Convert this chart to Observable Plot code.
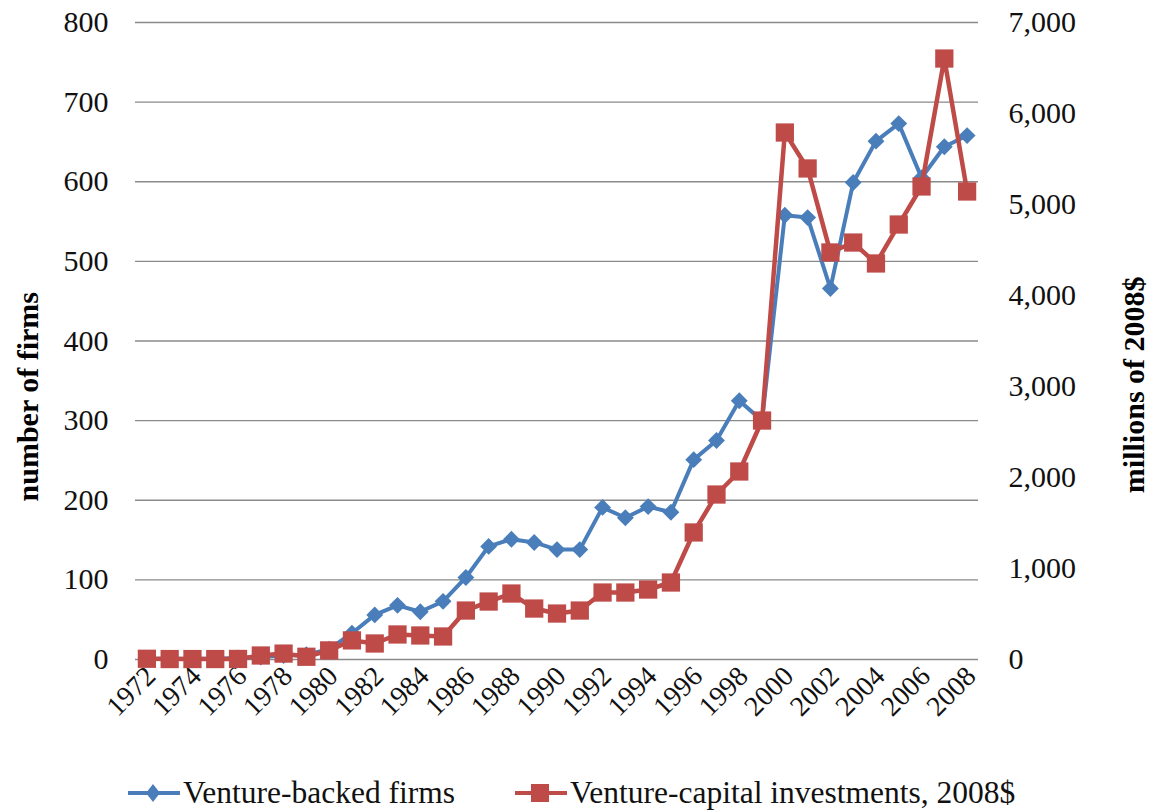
<!DOCTYPE html>
<html>
<head>
<meta charset="utf-8">
<script src="https://cdn.jsdelivr.net/npm/d3@7"></script>
<script src="https://cdn.jsdelivr.net/npm/@observablehq/plot@0.6"></script>
<style>
  html, body { margin: 0; padding: 0; background: #fff; }
  #wrap { position: relative; width: 1149px; height: 812px; font-family: "Liberation Serif", "Times New Roman", serif; }
  #legend { position: absolute; left: 0; top: 772px; width: 1149px; height: 42px; }
  .item { position: absolute; top: 0; height: 42px; display: flex; align-items: center; font-size: 31.5px; color: #111; }
  .item svg { margin-right: 3px; }
</style>
</head>
<body>
<div id="wrap">
  <div id="chart"></div>
  <div id="legend"></div>
</div>
<script>
// ---- data ----
const years = [1972,1973,1974,1975,1976,1977,1978,1979,1980,1981,1982,1983,1984,1985,1986,1987,1988,1989,1990,
               1991,1992,1993,1994,1995,1996,1997,1998,1999,2000,2001,2002,2003,2004,2005,2006,2007,2008];
const firms = [1,1,1,1,2, 3,5,6,13, 33,56,68,60,73, 103,142,151,147,138,
               138,191,178,192,185, 251,275,325,300,558, 555,466,599,651,673, 605,644,658];
const investments = [8,5,5,5,6, 44,65,30,100, 210,176,275,264,253, 538,637,725,560,505,
                     538,736,736,769,846, 1396,1813,2066,2626,5791, 5396,4473,4582,4352,4780, 5198,6604,5143];
const leftTicks = [0,100,200,300,400,500,600,700,800];
const rightTicks = [0,1000,2000,3000,4000,5000,6000,7000];
const xTickYears = [1972,1974,1976,1978,1980,1982,1984,1986,1988,1990,1992,1994,1996,1998,2000,2002,2004,2006,2008];
const seriesNames = ["Venture-backed firms", "Venture-capital investments, 2008$"];
const leftTitle = "number of firms";
const rightTitle = "millions of 2008$";

const blue = "#4a7ebb";
const red = "#be4b48";
const k = 800 / 7000; // right-axis value -> left-axis units

const firmRows = years.map((y, i) => ({year: y, v: firms[i]}));
const invRows = years.map((y, i) => ({year: y, v: investments[i] * k}));

const fmt = d3.format(",");

const chart = Plot.plot({
  width: 1149,
  height: 740,
  marginLeft: 135,
  marginRight: 171,
  marginTop: 22,
  marginBottom: 81,
  style: {fontFamily: '"Liberation Serif", "Times New Roman", serif', color: "#111", background: "#fff"},
  x: {type: "point", domain: years, padding: 0.5, round: false},
  y: {domain: [0, 800]},
  marks: [
    Plot.ruleY(leftTicks, {stroke: "#8a8a8a", strokeWidth: 1.3}),
    Plot.axisY(leftTicks, {tickSize: 0, tickPadding: 27, fontSize: 30, label: null}),
    Plot.axisY(rightTicks.map(d => d * k), {anchor: "right", tickSize: 0, tickPadding: 30, fontSize: 30, label: null,
      tickFormat: d => fmt(Math.round(d / k))}),
    Plot.axisX(xTickYears, {tickSize: 0, tickPadding: 12, tickRotate: -45, fontSize: 28, dx: 4, label: null, tickFormat: d => String(d)}),
    Plot.text([leftTitle], {frameAnchor: "left", y: [330], text: d => d, rotate: -90, dx: -107, textAnchor: "middle", fontSize: 30, fontWeight: "bold", fill: "#000"}),
    Plot.text([rightTitle], {frameAnchor: "right", y: [345], text: d => d, rotate: -90, dx: 156, textAnchor: "middle", fontSize: 30, fontWeight: "bold", fill: "#000"}),
    Plot.line(firmRows, {x: "year", y: "v", stroke: blue, strokeWidth: 4}),
    Plot.dot(firmRows, {x: "year", y: "v", symbol: "diamond2", r: 7.6, fill: blue, stroke: "none"}),
    Plot.line(invRows, {x: "year", y: "v", stroke: red, strokeWidth: 4.5}),
    Plot.dot(invRows, {x: "year", y: "v", symbol: "square", r: 10.3, fill: red, stroke: "none"})
  ]
});
document.getElementById("chart").appendChild(chart);

// legend
const legend = document.getElementById("legend");
const items = [
  {name: seriesNames[0], color: blue, left: 128, shape: "diamond"},
  {name: seriesNames[1], color: red, left: 515, shape: "square"}
];
for (const it of items) {
  const div = document.createElement("div");
  div.className = "item";
  div.style.left = it.left + "px";
  const marker = it.shape === "diamond"
    ? `<path d="M25,12 L32,21 L25,30 L18,21 Z" fill="${it.color}"/>`
    : `<rect x="16" y="12" width="18" height="18" fill="${it.color}"/>`;
  div.innerHTML = `<svg width="52" height="42"><line x1="0" x2="52" y1="21" y2="21" stroke="${it.color}" stroke-width="4"/>${marker}</svg><span>${it.name}</span>`;
  legend.appendChild(div);
}
</script>
</body>
</html>
